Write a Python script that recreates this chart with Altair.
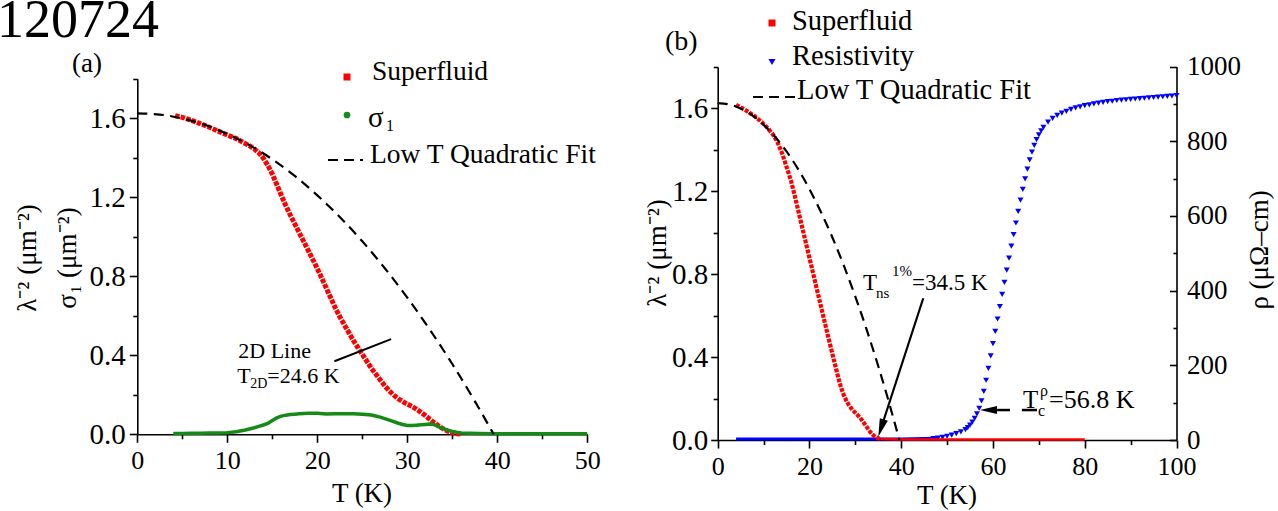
import altair as alt
import pandas as pd

FONT = "Liberation Serif"
W, H = 1278, 511

# ---------------- panel (a): superfluid density and sigma_1 ----------------
sf_a_T = [4.2, 5, 6, 7, 8, 9, 10, 11, 12,
          12.5, 13, 13.5, 14, 14.5, 15, 15.5, 16, 16.5, 17, 17.5, 18, 18.5, 19, 19.5,
          20, 20.5, 21, 21.5, 22, 22.5, 23, 23.5, 24, 24.5, 25, 25.5, 26, 26.5, 27,
          27.5, 28, 28.5, 29, 29.5, 30, 30.5, 31, 31.5, 32, 32.5, 33, 33.5, 34, 34.5,
          35, 35.5, 36]
sf_a_v = [1.613, 1.605, 1.590, 1.573, 1.555, 1.535, 1.515, 1.497, 1.472,
          1.460, 1.445, 1.425, 1.398, 1.362, 1.318, 1.265, 1.210, 1.158, 1.110, 1.065,
          1.020, 0.975, 0.930, 0.885, 0.840, 0.790, 0.740, 0.690, 0.640, 0.595, 0.555,
          0.515, 0.475, 0.440, 0.405, 0.370, 0.335, 0.305, 0.275, 0.245, 0.220, 0.198,
          0.180, 0.165, 0.153, 0.142, 0.128, 0.112, 0.095, 0.076, 0.058, 0.042, 0.028,
          0.016, 0.008, 0.003, 0.001]

sig_T = [4, 5, 6, 7, 8, 9, 10, 11, 12, 13, 13.5, 14, 14.5, 15, 15.5, 16, 16.5, 17,
         17.5, 18, 19, 20, 21, 22, 23, 24, 25, 26, 27, 28, 29, 29.5, 30, 30.5, 31,
         31.5, 32, 32.5, 33, 33.5, 34, 34.5, 35, 35.5, 36, 37, 38, 40, 45, 50]
sig_v = [0.004, 0.004, 0.005, 0.005, 0.006, 0.007, 0.008, 0.013, 0.022, 0.033, 0.040,
         0.047, 0.055, 0.070, 0.083, 0.092, 0.097, 0.100, 0.102, 0.104, 0.106, 0.106,
         0.103, 0.104, 0.104, 0.104, 0.102, 0.098, 0.087, 0.072, 0.056, 0.050, 0.045,
         0.044, 0.046, 0.048, 0.050, 0.052, 0.049, 0.038, 0.029, 0.021, 0.014, 0.010,
         0.007, 0.005, 0.004, 0.003, 0.003, 0.003]

# low-temperature quadratic fit (shared by both panels)
fit_T = [0, 2.5, 5, 7.5, 10, 12.5, 15, 17.5, 20, 22.5, 25, 27.5, 30, 32.5, 35, 37.5, 39.6]
fit_v = [1.625, 1.619, 1.599, 1.567, 1.521, 1.463, 1.392, 1.308, 1.210, 1.100, 0.977,
         0.841, 0.692, 0.530, 0.356, 0.168, 0.0]

# 2D (BKT) line segment
line2d_T = [21.9, 28.2]
line2d_v = [0.370, 0.482]

# ---------------- panel (b): superfluid density and resistivity ----------------
sf_b_T = [4, 5, 6, 7, 8, 9, 10, 11, 12,
          12.5, 13, 13.5, 14, 14.5, 15, 15.5, 16, 16.5, 17, 17.5, 18, 18.5, 19, 19.5,
          20, 20.5, 21, 21.5, 22, 22.5, 23, 23.5, 24, 24.5, 25, 25.5, 26, 26.5, 27,
          27.5, 28, 28.5, 29, 29.5, 30, 30.5, 31, 31.5, 32, 32.5, 33, 33.5, 34, 34.5,
          35, 35.5]
sf_b_v = [1.617, 1.605, 1.592, 1.578, 1.563, 1.545, 1.525, 1.502, 1.475,
          1.458, 1.438, 1.412, 1.385, 1.352, 1.318, 1.284, 1.248, 1.205, 1.160, 1.112,
          1.065, 1.018, 0.972, 0.925, 0.878, 0.832, 0.785, 0.738, 0.692, 0.645, 0.598,
          0.552, 0.505, 0.460, 0.415, 0.370, 0.325, 0.283, 0.245, 0.215, 0.192, 0.172,
          0.156, 0.143, 0.131, 0.120, 0.108, 0.094, 0.078, 0.062, 0.046, 0.032, 0.021,
          0.013, 0.008, 0.005]
sf_tail_T = [35.5, 40, 50, 60, 70, 80]
sf_tail_v = [0.005, 0.003, 0.003, 0.003, 0.003, 0.003]

rho_base_T = [4, 10, 20, 30, 40, 45, 48]
rho_base_v = [3, 3, 3, 3, 3, 4, 5]

rho_T = ([47, 48, 49, 50, 51, 52, 53, 54]
         + [54.5 + 0.5 * i for i in range(34)]
         + list(range(72, 101)))
rho_v = [4, 5, 7, 10, 13, 17, 22, 28,
         33, 40, 48, 58, 70, 85, 105, 130, 160, 192, 225, 258, 291, 324, 357, 390,
         422, 455, 487, 519, 550, 581, 612, 642, 671, 699, 725, 750, 771, 789, 804,
         817, 828, 837,
         851, 861, 869, 875, 880, 885, 889, 892, 895, 897, 900, 902, 904, 906, 907,
         909, 910, 911, 912, 913, 914, 915, 916, 917, 918, 919, 920, 921, 922]

# arrows marking T_ns(1%) and T_c(rho)
tns_shaft_T = [44.8, 35.55]
tns_shaft_v = [0.684, 0.053]
tns_tip = (35.0, 0.016)
tc_shaft = [(60.9, 63.7), (66.3, 69.6)]
tc_rho = 80.2
tc_tip = (57.17, 80.2)

# pixel ranges so both panels live on one canvas
XA = alt.Scale(domain=[0, 50], range=[137.3, 587.3], nice=False, zero=False)
YA = alt.Scale(domain=[0, 1.8], range=[434.3, 78.8], nice=False, zero=False)
XB = alt.Scale(domain=[0, 100], range=[717.7, 1176.5], nice=False, zero=False)
YB = alt.Scale(domain=[0, 1.8], range=[440, 66.9], nice=False, zero=False)
YR = alt.Scale(domain=[0, 1000], range=[440, 66.5], nice=False, zero=False)

HEAD = "M0,0L-0.47,2L0.47,2Z"
ONE = pd.DataFrame({"k": [0]})


def frame(xs, ys):
    return pd.DataFrame({"T": xs, "v": ys})


def ax(orient, offset, values, labels=False, tick=4.5, domain=False, fmt=None, pad=4,
       size=26):
    kw = dict(orient=orient, offset=offset, values=values, labels=labels,
              tickSize=tick, domain=domain, title=None, grid=False,
              labelFlush=False, labelOverlap=False, labelPadding=pad,
              labelFontSize=size)
    if fmt:
        kw["format"] = fmt
    return alt.Axis(**kw)


def xy(xs, ys, xaxis=None, yaxis=None):
    return dict(x=alt.X("T:Q", scale=xs, axis=xaxis),
                y=alt.Y("v:Q", scale=ys, axis=yaxis))


def label(text, x, y, size, align="left", angle=None, color="black"):
    props = dict(text=text, font=FONT, fontSize=size, align=align,
                 baseline="alphabetic", color=color)
    if angle is not None:
        props["angle"] = angle
    return alt.Chart(ONE).mark_text(**props).encode(x=alt.value(x), y=alt.value(y))


def note(t, v, xs, ys, text, size, dx=0, dy=0):
    return alt.Chart(frame([t], [v])).mark_text(
        text=text, font=FONT, fontSize=size, align="left", baseline="alphabetic",
        dx=dx, dy=dy, color="black").encode(**xy(xs, ys))


def marker(shape, x, y, size, color):
    return alt.Chart(ONE).mark_point(shape=shape, filled=True, size=size, color=color,
                                     opacity=1, strokeWidth=0).encode(
        x=alt.value(x), y=alt.value(y))


def dash_key(x1, x2, y):
    return alt.Chart(ONE).mark_rule(color="black", strokeWidth=2.2,
                                    strokeDash=[10, 6]).encode(
        x=alt.value(x1), x2=alt.value(x2), y=alt.value(y))


# ---------------- panel (a) layers ----------------
red_a = alt.Chart(frame(sf_a_T, sf_a_v)).mark_line(
    color="#ff0000", strokeWidth=5, strokeDash=[4.4, 1.3], strokeCap="butt").encode(
    **xy(XA, YA,
         ax("bottom", -76.7, [5, 15, 25, 35, 45]),
         ax("left", -137.3, [0.2, 0.6, 1.0, 1.4, 1.8])))

green_a = alt.Chart(frame(sig_T, sig_v)).mark_line(
    color="#168a16", strokeWidth=3.5).encode(**xy(XA, YA))

fit_a = alt.Chart(frame(fit_T, fit_v)).mark_line(
    color="black", strokeWidth=2.2, strokeDash=[10, 6.5], interpolate="monotone").encode(
    **xy(XA, YA,
         ax("bottom", -76.7, [0, 10, 20, 30, 40, 50], labels=True, tick=8, domain=True,
            pad=5, size=26),
         ax("left", -137.3, [0, 0.4, 0.8, 1.2, 1.6], labels=True, tick=8, domain=True,
            fmt=".1f", pad=4, size=29)))

line_a = alt.Chart(frame(line2d_T, line2d_v)).mark_line(
    color="black", strokeWidth=2).encode(**xy(XA, YA))

notes_a = [
    note(11.22, 0.385, XA, YA, "2D Line", 22),
    note(11.11, 0.259, XA, YA, "T", 22),
    note(11.11, 0.259, XA, YA, "2D", 14, dx=13, dy=5),
    note(11.11, 0.259, XA, YA, "=24.6 K", 22, dx=30),
]

# ---------------- panel (b) layers ----------------
blue_base = alt.Chart(frame(rho_base_T, rho_base_v)).mark_line(
    color="#0000ff", strokeWidth=3).encode(
    **xy(XB, YR, None,
         ax("left", -1176.5, [0, 200, 400, 600, 800, 1000], tick=7)))

blue_tri = alt.Chart(frame(rho_T, rho_v)).mark_point(
    shape="triangle-down", filled=True, size=36, color="#0000ff", opacity=1,
    strokeWidth=0).encode(
    **xy(XB, YR, None,
         ax("right", -101.5, [0, 200, 400, 600, 800, 1000], labels=True, tick=0,
            domain=True, fmt="d", pad=10, size=27)))

red_b = alt.Chart(frame(sf_b_T, sf_b_v)).mark_line(
    color="#ff0000", strokeWidth=4.2, strokeDash=[3.8, 1.3], strokeCap="butt").encode(
    **xy(XB, YB,
         ax("bottom", -71, [10, 30, 50, 70, 90]),
         ax("left", -717.7, [0.2, 0.6, 1.0, 1.4, 1.8])))

red_tail = alt.Chart(frame(sf_tail_T, sf_tail_v)).mark_line(
    color="#ff0000", strokeWidth=2.5).encode(**xy(XB, YB))

fit_b = alt.Chart(frame(fit_T, fit_v)).mark_line(
    color="black", strokeWidth=2.2, strokeDash=[10, 6.5], interpolate="monotone").encode(
    **xy(XB, YB,
         ax("bottom", -71, [0, 20, 40, 60, 80, 100], labels=True, tick=8, domain=True,
            pad=5, size=26),
         ax("left", -717.7, [0, 0.4, 0.8, 1.2, 1.6], labels=True, tick=7, domain=True,
            fmt=".1f", pad=3, size=29)))

tns_shaft = alt.Chart(frame(tns_shaft_T, tns_shaft_v)).mark_line(
    color="black", strokeWidth=2.2).encode(**xy(XB, YB))
tns_head = alt.Chart(frame([tns_tip[0]], [tns_tip[1]])).mark_point(
    shape=HEAD, filled=True, size=324, angle=198, color="black", opacity=1,
    strokeWidth=0).encode(**xy(XB, YB))

tc_df = pd.DataFrame({"T": [s[0] for s in tc_shaft], "T2": [s[1] for s in tc_shaft],
                      "v": [tc_rho] * len(tc_shaft)})
tc_rules = alt.Chart(tc_df).mark_rule(color="black", strokeWidth=2.5).encode(
    x=alt.X("T:Q", scale=XB, axis=None), x2="T2:Q",
    y=alt.Y("v:Q", scale=YR,
            axis=ax("left", -1176.5, [100, 300, 500, 700, 900], tick=3.5)))
tc_head = alt.Chart(frame([tc_tip[0]], [tc_tip[1]])).mark_point(
    shape=HEAD, filled=True, size=289, angle=270, color="black", opacity=1,
    strokeWidth=0).encode(**xy(XB, YR))

notes_b = [
    note(31.67, 0.724, XB, YB, "T", 23),
    note(31.67, 0.724, XB, YB, "ns", 15, dx=13, dy=8),
    note(31.67, 0.724, XB, YB, "1%", 15, dx=29, dy=-14),
    note(31.67, 0.724, XB, YB, "=34.5 K", 23, dx=49),
    note(66.54, 85.6, XB, YR, "T", 25),
    note(66.54, 85.6, XB, YR, "c", 16, dx=15, dy=8),
    note(66.54, 85.6, XB, YR, "ρ", 16, dx=17, dy=-12),
    note(66.54, 85.6, XB, YR, "=56.8 K", 26, dx=26),
]

# ---------------- titles, tags and keys ----------------
texts = [
    label("120724", -3, 37, 54),
    label("(a)", 72, 72, 27),
    label("(b)", 665, 50, 28),
    label("λ⁻² (μm⁻²)", 36, 258, 27, align="center", angle=270),
    label("σ₁ (μm⁻²)", 76, 258, 27, align="center", angle=270),
    label("λ⁻² (μm⁻²)", 666, 253, 27, align="center", angle=270),
    label("ρ (μΩ–cm)", 1268, 250, 27, align="center", angle=270),
    label("T (K)", 362, 502, 27, align="center"),
    label("T (K)", 947, 504, 27, align="center"),
    # key, panel (a)
    marker("square", 347, 77, 49, "#ff0000"),
    label("Superfluid", 372, 80, 27.5),
    marker("circle", 347, 115, 45, "#168a16"),
    label("σ", 368, 127, 29),
    label("1", 386, 131, 16),
    dash_key(328, 363, 160),
    label("Low T Quadratic Fit", 370, 163, 27.5),
    # key, panel (b)
    marker("square", 772, 23, 49, "#ff0000"),
    label("Superfluid", 792, 30, 28.5),
    marker("triangle-down", 772, 62, 50, "#0000ff"),
    label("Resistivity", 792, 65, 28.5),
    dash_key(753, 795, 97),
    label("Low T Quadratic Fit", 797, 99, 28.5),
]

layers = ([red_a, green_a, fit_a, line_a] + notes_a
          + [blue_base, blue_tri, red_b, red_tail, fit_b, tns_shaft, tns_head,
             tc_rules, tc_head] + notes_b + texts)

chart = (
    alt.layer(*layers)
    .resolve_scale(x="independent", y="independent")
    .properties(width=W, height=H, autosize=alt.AutoSizeParams(type="none"),
                padding=0, background="white")
    .configure_view(strokeWidth=0)
    .configure_axis(labelFont=FONT, labelFontSize=26, labelColor="black",
                    tickColor="black", domainColor="black", domainWidth=1.6,
                    tickWidth=1.6)
)

chart.save("out.html", embed_options={"renderer": "svg", "actions": False})
